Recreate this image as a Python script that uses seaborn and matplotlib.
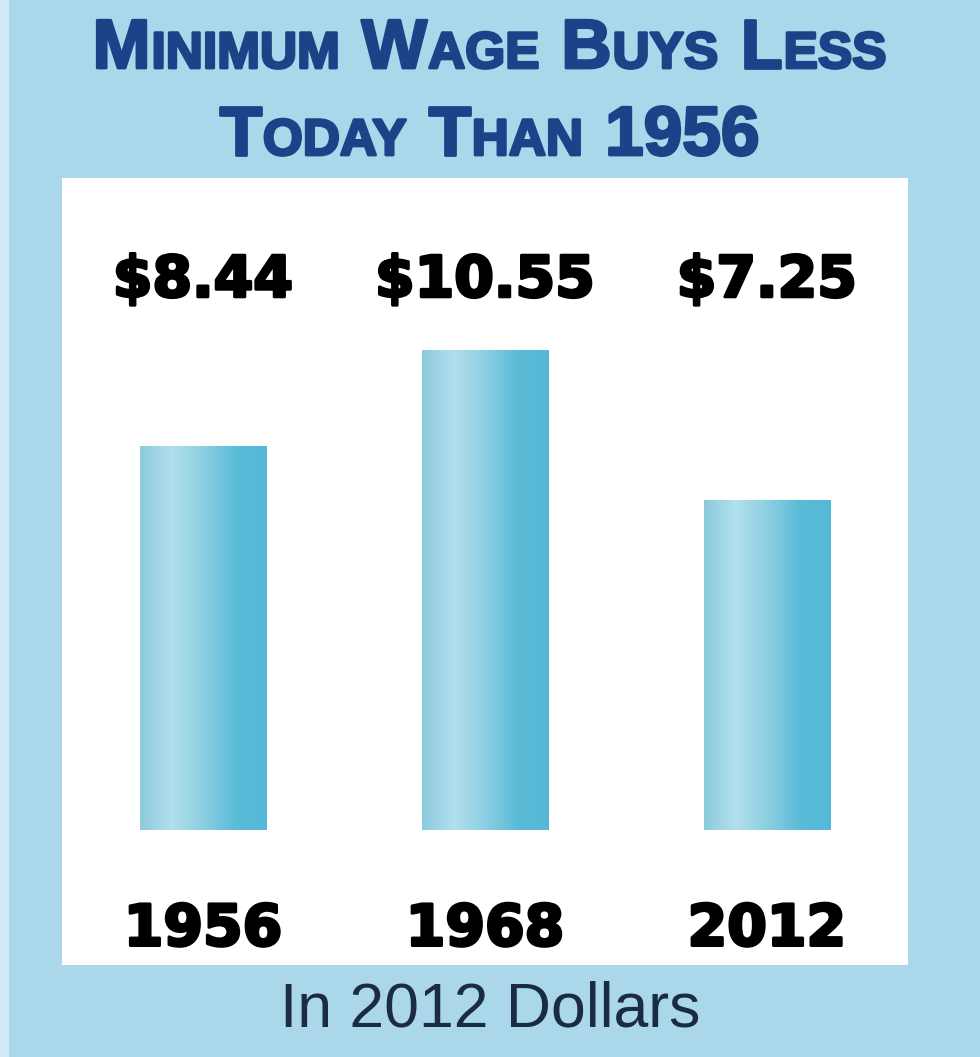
import numpy as np
import pandas as pd
import seaborn as sns
import matplotlib.pyplot as plt
import matplotlib.patheffects as pe
from matplotlib.colors import LinearSegmentedColormap
from matplotlib.patches import Rectangle

# data
years = ["1956", "1968", "2012"]
wages = [8.44, 10.55, 7.25]
value_labels = ["$8.44", "$10.55", "$7.25"]

df = pd.DataFrame({"year": years, "wage": wages})

BG = "#aad8ea"
TITLE_COLOR = "#1c4288"

sns.set_style("white")
fig = plt.figure(figsize=(9.8, 10.57), dpi=100, facecolor=BG)
fig.patches.append(Rectangle((0, 0), 8 / 980, 1, transform=fig.transFigure,
                             color="#cfeaf4", zorder=0))

# white panel = axes
ax = fig.add_axes([62 / 980, 1 - 965 / 1057, 846 / 980, 787 / 1057])
ax.set_facecolor("white")
sns.barplot(data=df, x="year", y="wage", ax=ax, width=0.447,
            color="#7cc8de", errorbar=None)
ax.set_xlim(-0.5, 2.5)
ax.set_ylim(-2.97, 14.33)
for s in ax.spines.values():
    s.set_visible(False)
ax.set_xticks([])
ax.set_yticks([])
ax.set_xlabel("")
ax.set_ylabel("")

# gradient fill for bars
cmap = LinearSegmentedColormap.from_list(
    "bar", ["#8ccade", "#b2e0ed", "#8ccfe2", "#5bbcd8", "#55b8d6"])
grad = np.linspace(0, 1, 256).reshape(1, -1)
for bar in ax.patches:
    x0, y0 = bar.get_x(), bar.get_y()
    w, h = bar.get_width(), bar.get_height()
    bar.set_facecolor("none")
    bar.set_edgecolor("none")
    im = ax.imshow(grad, cmap=cmap, aspect="auto",
                   extent=(x0, x0 + w, y0, y0 + h), zorder=2)
    im.set_clip_path(bar)

heavy = [pe.withStroke(linewidth=2.2, foreground="black")]
for i, lab in enumerate(value_labels):
    ax.text(i, 12.06, lab, ha="center", va="center", fontsize=41,
            fontweight="bold", family="DejaVu Sans", color="black",
            path_effects=heavy)
    ax.text(i, -2.2, years[i], ha="center", va="center", fontsize=41,
            fontweight="bold", family="DejaVu Sans", color="black",
            path_effects=heavy)

# small-caps title, laid out piece by piece
renderer = fig.canvas.get_renderer()
title_fx = [pe.withStroke(linewidth=2.0, foreground=TITLE_COLOR)]


def small_caps_line(words, y_px, big=50, small=37, gap=0.42):
    pieces = []
    for w in words:
        if w.isdigit():
            pieces.append((w, big))
        else:
            pieces.append((w[0], big))
            if len(w) > 1:
                pieces.append((w[1:].upper(), small))
        pieces.append((" ", None))
    pieces = pieces[:-1]
    texts = []
    x = 0
    for s, size in pieces:
        if size is None:
            x += gap * big
            continue
        t = fig.text(x / 980, 1 - y_px / 1057, s, fontsize=size,
                     fontweight="bold", family="Liberation Sans",
                     color=TITLE_COLOR, ha="left", va="baseline",
                     path_effects=title_fx)
        bb = t.get_window_extent(renderer)
        texts.append(t)
        x += bb.width + 1
    offset = (980 - x) / 2
    for t in texts:
        px, py = t.get_position()
        t.set_x(px + offset / 980)


small_caps_line(["Minimum", "Wage", "Buys", "Less"], 68)
small_caps_line(["Today", "Than", "1956"], 155)

fig.text(0.5, 1 - 1010 / 1057, "In 2012 Dollars", ha="center", va="center",
         fontsize=45, family="Liberation Sans", color="#1b2b42")

fig.savefig("out.png", dpi=100, facecolor=BG)
